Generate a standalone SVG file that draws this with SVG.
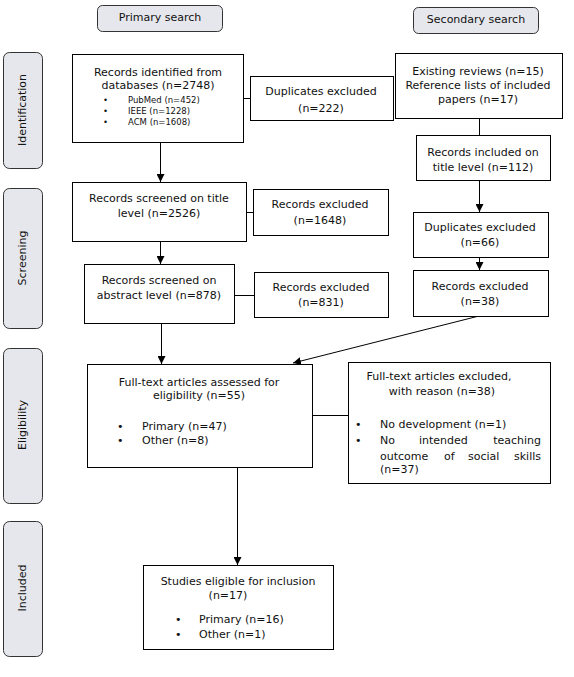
<svg xmlns="http://www.w3.org/2000/svg" width="574" height="677" viewBox="0 0 574 677">
<defs>
<style>
text{font-family:"DejaVu Sans","Liberation Sans",sans-serif;font-size:11px;fill:#111}
.sm{font-size:8.5px}
.c{text-anchor:middle}
.e{text-anchor:end}
.box{fill:#fff;stroke:#000;stroke-width:1}
.tag{fill:#e6e7ec;stroke:#333;stroke-width:1}
.ln{stroke:#000;stroke-width:1;fill:none}
</style>
<marker id="ah" viewBox="0 0 10 10" refX="10" refY="5" markerWidth="8" markerHeight="8" markerUnits="userSpaceOnUse" orient="auto">
<path d="M0,0 L10,5 L0,10 z" fill="#000"/>
</marker>
</defs>
<rect width="574" height="677" fill="#fff"/>

<g id="primary-search"><rect class="tag" x="97.5" y="5.5" width="125" height="26" rx="5"/><text class="c" x="160" y="21">Primary search</text></g>
<g id="secondary-search"><rect class="tag" x="413.5" y="7.5" width="125" height="26" rx="5"/><text class="c" x="476" y="23">Secondary search</text></g>

<g id="stage-identification"><rect class="tag" x="3.5" y="52.5" width="39" height="116" rx="6"/><text class="c" transform="translate(26,110) rotate(-90)">Identification</text></g>
<g id="stage-screening"><rect class="tag" x="3.5" y="188.5" width="39" height="140" rx="6"/><text class="c" transform="translate(26,258) rotate(-90)">Screening</text></g>
<g id="stage-eligibility"><rect class="tag" x="3.5" y="348.5" width="39" height="155" rx="6"/><text class="c" transform="translate(26,425) rotate(-90)">Eligibility</text></g>
<g id="stage-included"><rect class="tag" x="3.5" y="521.5" width="39" height="135" rx="6"/><text class="c" transform="translate(26,588) rotate(-90)">Included</text></g>

<g id="connectors">
<line class="ln" x1="160.5" y1="142" x2="160.5" y2="182" marker-end="url(#ah)"/>
<line class="ln" x1="243" y1="98.5" x2="250" y2="98.5"/>
<line class="ln" x1="479.5" y1="118" x2="479.5" y2="135"/>
<line class="ln" x1="479.5" y1="180" x2="479.5" y2="212" marker-end="url(#ah)"/>
<line class="ln" x1="479.5" y1="257" x2="479.5" y2="270" marker-end="url(#ah)"/>
<line class="ln" x1="247" y1="212.5" x2="253" y2="212.5"/>
<line class="ln" x1="160.5" y1="241" x2="160.5" y2="264" marker-end="url(#ah)"/>
<line class="ln" x1="234" y1="295.5" x2="254" y2="295.5"/>
<line class="ln" x1="161.5" y1="323" x2="161.5" y2="364" marker-end="url(#ah)"/>
<line class="ln" x1="479" y1="316" x2="293" y2="363" marker-end="url(#ah)"/>
<line class="ln" x1="312" y1="415.5" x2="348" y2="415.5"/>
<line class="ln" x1="237.5" y1="467" x2="237.5" y2="565" marker-end="url(#ah)"/>
</g>

<g id="records-identified"><rect class="box" x="72.5" y="54.5" width="171" height="88"/>
<text class="c" x="158" y="76">Records identified from</text>
<text class="c" x="158" y="89">databases (n=2748)</text>
<text class="sm" x="103" y="103">•</text><text class="sm" x="128" y="103">PubMed (n=452)</text>
<text class="sm" x="103" y="114">•</text><text class="sm" x="128" y="114">IEEE (n=1228)</text>
<text class="sm" x="103" y="125">•</text><text class="sm" x="128" y="125">ACM (n=1608)</text>
</g>
<g id="duplicates-222"><rect class="box" x="250.5" y="76.5" width="143" height="44"/>
<text class="c" x="321" y="95">Duplicates excluded</text><text class="c" x="321" y="112">(n=222)</text></g>
<g id="existing-reviews"><rect class="box" x="395.5" y="53.5" width="167" height="65"/>
<text class="c" x="478" y="75">Existing reviews (n=15)</text>
<text class="c" x="478" y="89">Reference lists of included</text>
<text class="c" x="478" y="103">papers (n=17)</text></g>
<g id="records-included-title"><rect class="box" x="416.5" y="135.5" width="134" height="45"/>
<text class="c" x="483" y="156">Records included on</text><text class="c" x="483" y="171">title level (n=112)</text></g>

<g id="screened-title"><rect class="box" x="72.5" y="182.5" width="174" height="59"/>
<text class="c" x="159" y="202">Records screened on title</text><text class="c" x="159" y="217">level (n=2526)</text></g>
<g id="excluded-1648"><rect class="box" x="253.5" y="189.5" width="135" height="46"/>
<text class="c" x="320" y="208">Records excluded</text><text class="c" x="320" y="224">(n=1648)</text></g>
<g id="duplicates-66"><rect class="box" x="413.5" y="212.5" width="135" height="45"/>
<text class="c" x="480" y="231">Duplicates excluded</text><text class="c" x="480" y="246">(n=66)</text></g>
<g id="screened-abstract"><rect class="box" x="84.5" y="264.5" width="150" height="59"/>
<text class="c" x="159" y="284">Records screened on</text><text class="c" x="159" y="299">abstract level (n=878)</text></g>
<g id="excluded-831"><rect class="box" x="254.5" y="272.5" width="134" height="45"/>
<text class="c" x="321" y="291">Records excluded</text><text class="c" x="321" y="306">(n=831)</text></g>
<g id="excluded-38"><rect class="box" x="413.5" y="270.5" width="135" height="46"/>
<text class="c" x="480" y="290">Records excluded</text><text class="c" x="480" y="305">(n=38)</text></g>

<g id="full-text-assessed"><rect class="box" x="87.5" y="364.5" width="225" height="103"/>
<text class="c" x="199" y="386">Full-text articles assessed for</text>
<text class="c" x="199" y="399">eligibility (n=55)</text>
<text x="117" y="430">•</text><text x="142" y="430">Primary (n=47)</text>
<text x="117" y="444">•</text><text x="142" y="444">Other (n=8)</text></g>
<g id="full-text-excluded"><rect class="box" x="348.5" y="362.5" width="202" height="121"/>
<text class="c" x="439" y="380">Full-text articles excluded,</text>
<text class="c" x="442" y="395">with reason (n=38)</text>
<text x="355" y="428">•</text><text x="380" y="428">No development (n=1)</text>
<text x="355" y="444">•</text><text x="380" y="444">No</text><text x="419" y="444">intended</text><text class="e" x="541" y="444">teaching</text>
<text x="380" y="460">outcome</text><text x="444" y="460">of</text><text x="468" y="460">social</text><text class="e" x="541" y="460">skills</text>
<text x="380" y="473">(n=37)</text></g>

<g id="studies-included"><rect class="box" x="143.5" y="565.5" width="190" height="84"/>
<text class="c" x="238" y="585">Studies eligible for inclusion</text>
<text class="c" x="228" y="599">(n=17)</text>
<text x="175" y="623">•</text><text x="199" y="623">Primary (n=16)</text>
<text x="175" y="638">•</text><text x="199" y="638">Other (n=1)</text></g>
</svg>
